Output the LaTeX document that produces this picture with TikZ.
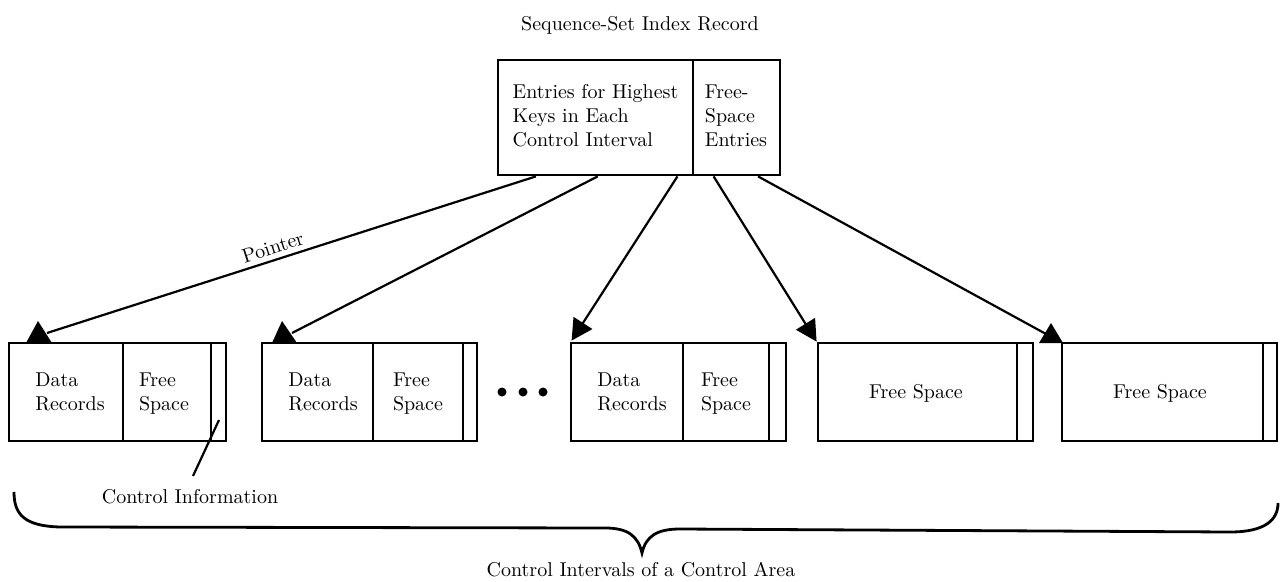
\documentclass[tikz,border=0pt]{standalone}
\usepackage{fontspec}
\setmainfont{lmroman10-regular.otf}
\usetikzlibrary{arrows.meta,calc}
\begin{document}
\begin{tikzpicture}[x=1pt,y=-1pt,
  txt/.style={font=\fontsize{20}{24}\selectfont, align=left, inner sep=0pt},
  outerbox/.style={draw, line width=2.8pt, inner sep=0pt},
  divider/.style={line width=1.8pt},
  conn/.style={line width=2.2pt},
  tri/.style={fill=black},
  tipped/.style={conn, -{Triangle[length=21pt,width=22pt]}},
  bracestyle/.style={line width=2.8pt}
]
\useasboundingbox (0,0) rectangle (1282,581);

% title
\node[txt, anchor=base] (title) at (640,30) {Sequence-Set Index Record};

% top record
\node[outerbox, minimum width=282pt, minimum height=115pt] (top) at (639,117.5) {};
\draw[divider] (693,60) -- (693,175);
\node[txt] (entries) at (595.5,115.5) {Entries for Highest\\Keys in Each\\Control Interval};
\node[txt] (fsentries) at (736,115.5) {Free-\\Space\\Entries};

% control intervals
\node[outerbox, minimum width=217pt, minimum height=98pt] (b1) at (117.5,392) {};
\node[outerbox, minimum width=215pt, minimum height=98pt] (b2) at (369.5,392) {};
\node[outerbox, minimum width=215pt, minimum height=98pt] (b3) at (678.5,392) {};
\node[outerbox, minimum width=215pt, minimum height=98pt] (b4) at (925.5,392) {};
\node[outerbox, minimum width=215pt, minimum height=98pt] (b5) at (1169.5,392) {};

\draw[divider] (123,343) -- (123,441) (211,343) -- (211,441);
\draw[divider] (373,343) -- (373,441) (463,343) -- (463,441);
\draw[divider] (683,343) -- (683,441) (769,343) -- (769,441);
\draw[divider] (1017,343) -- (1017,441);
\draw[divider] (1263,343) -- (1263,441);

\node[txt] (d1) at (70,392) {Data\\Records};
\node[txt] (f1) at (164,394) {Free\\Space};
\node[txt] (d2) at (323,392) {Data\\Records};
\node[txt] (f2) at (418,394) {Free\\Space};
\node[txt] (d3) at (632,392) {Data\\Records};
\node[txt] (f3) at (726,394) {Free\\Space};
\node[txt] (f4) at (916,393) {Free Space};
\node[txt] (f5) at (1160,393) {Free Space};

% ellipsis dots
\fill (502,392) circle (4.5) (523,392) circle (4.5) (543,392) circle (4.5);

% pointers
\coordinate (s1) at ($(top.south west)!0.138!(top.south east)$);
\coordinate (s2) at ($(top.south west)!0.355!(top.south east)$);
\coordinate (s3) at ($(top.south west)!0.635!(top.south east)$);
\coordinate (s4) at ($(top.south west)!0.762!(top.south east)$);
\coordinate (s5) at ($(top.south west)!0.918!(top.south east)$);
\coordinate (e1) at (47,333);
\coordinate (e2) at (292,333);
\coordinate (e5) at (1046,334);

\draw[conn] (s1) -- node[pos=0.53, sloped, above=5pt, txt] (ptr) {Pointer} (e1);
\fill[tri] (26,343) -- (52,343) -- (38,321) -- cycle;
\draw[conn] (s2) -- (e2);
\fill[tri] (272,343) -- (297,343) -- (282,321) -- cycle;
\draw[tipped] (s3) -- ($(b3.north west)+(2,-1)$);
\draw[tipped] (s4) -- (b4.north west);
\draw[conn] (s5) -- (e5);
\fill[tri] (1039,343) -- (1063,343) -- (1051,323) -- cycle;

% control information
\coordinate (cis) at (219,420);
\coordinate (cie) at (193,476);
\draw[conn] (cis) -- (cie);
\node[txt, anchor=base] (ctlinfo) at (190,503) {Control Information};

% brace
\draw[bracestyle] (14,492) .. controls (14,515) and (25,526) .. (60,527) -- (605,528)
  .. controls (628,528) and (638,536) .. (642,553)
  .. controls (646,536) and (657,529) .. (680,529) -- (1230,532)
  .. controls (1265,532) and (1278,520) .. (1278,503);
\node[txt, anchor=base] (area) at (641,576) {Control Intervals of a Control Area};
\end{tikzpicture}
\end{document}
